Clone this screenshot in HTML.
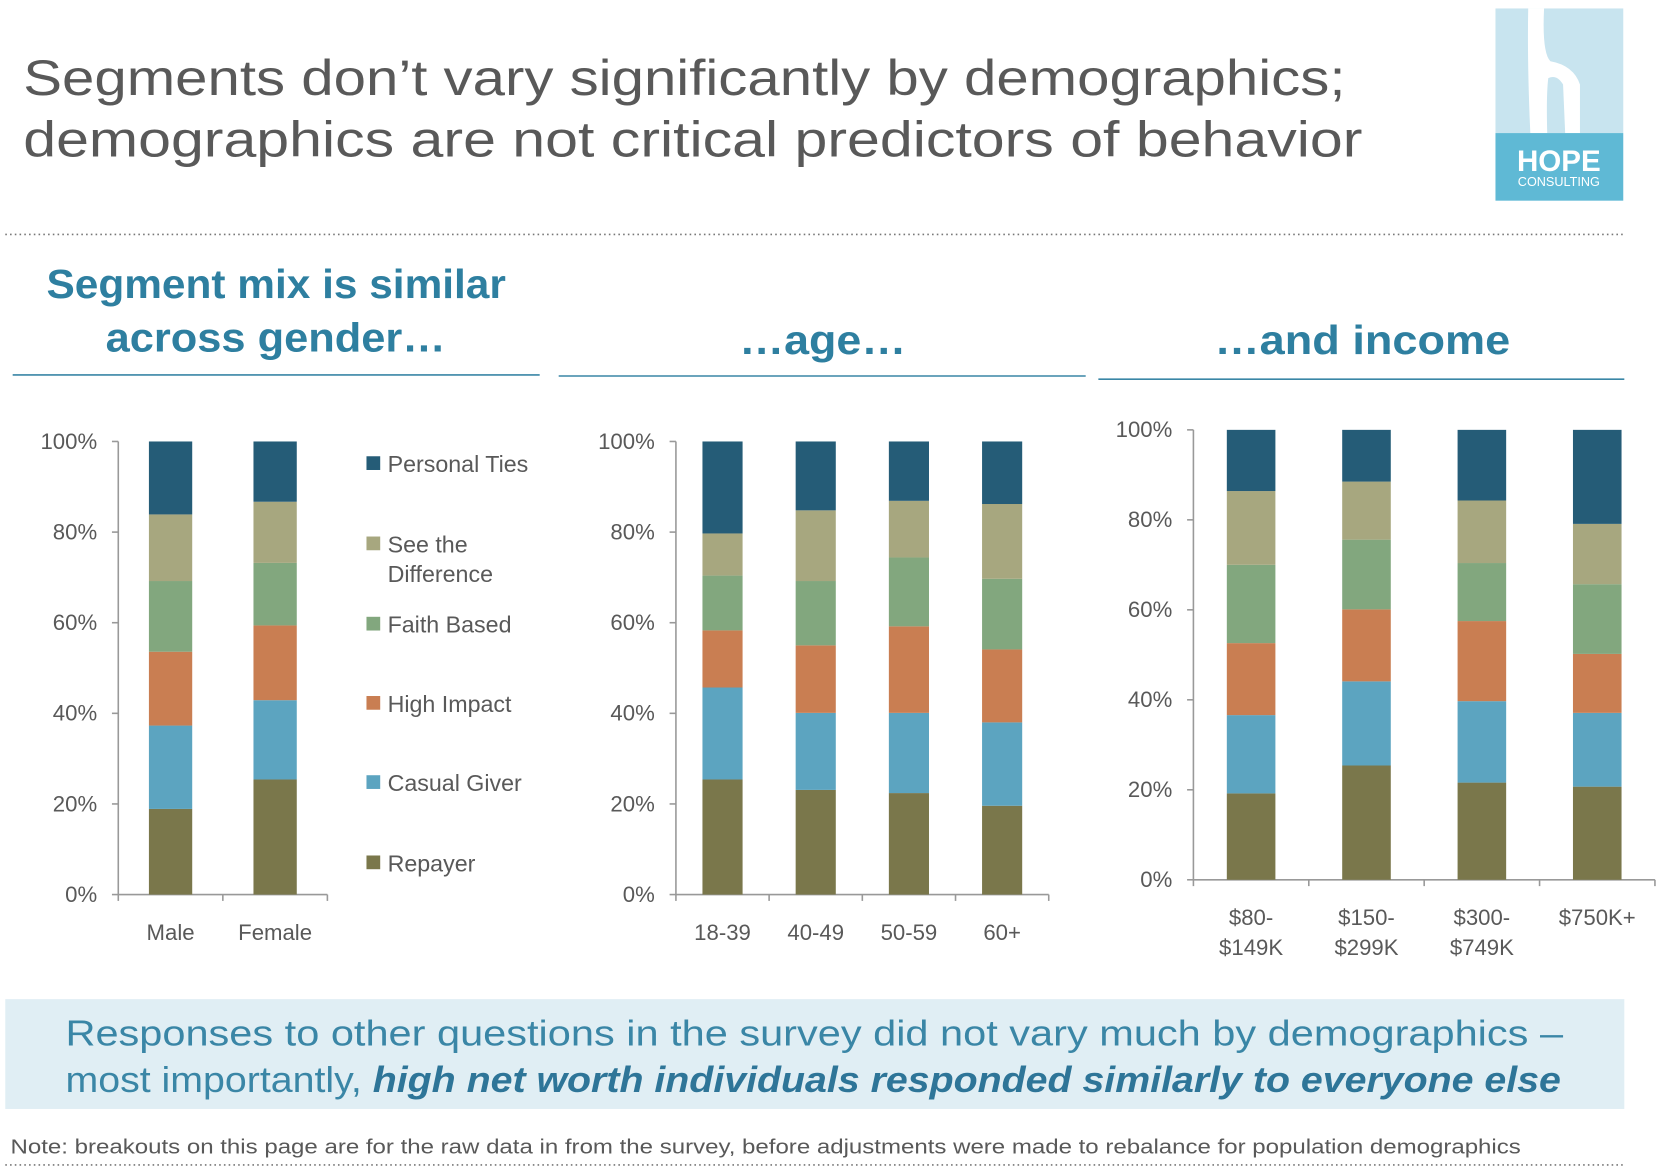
<!DOCTYPE html>
<html><head><meta charset="utf-8"><style>
html,body{margin:0;padding:0;background:#fff;}
svg{display:block;font-family:"Liberation Sans","DejaVu Sans",sans-serif;}
</style></head><body>
<svg id="slide" width="1656" height="1166" viewBox="0 0 1568 1104" preserveAspectRatio="none" xmlns="http://www.w3.org/2000/svg">
<text x="22" y="90" font-size="47" fill="#595959" textLength="1252" lengthAdjust="spacingAndGlyphs">Segments don’t vary significantly by demographics;</text>
<text x="22" y="148" font-size="47" fill="#595959" textLength="1268" lengthAdjust="spacingAndGlyphs">demographics are not critical predictors of behavior</text>
<g>
<rect x="1416" y="8" width="121" height="118" fill="#c8e4ef"/>
<path d="M1447 8 L1462 8 Q1460 50 1468 58 Q1490 62 1496 80 L1496 126 L1482 126 L1480 80 Q1474 70 1466 74 Q1464 90 1465 126 L1449 126 Q1446 60 1447 8 Z" fill="#fff"/>
<rect x="1416" y="126" width="121" height="64" fill="#5fb9d5"/>
<text x="1476" y="162" font-size="28" font-weight="bold" fill="#fff" text-anchor="middle">HOPE</text>
<text x="1476" y="176" font-size="12" fill="#fff" text-anchor="middle">CONSULTING</text>
</g>
<line x1="5" y1="222" x2="1537" y2="222" stroke="#777" stroke-width="1.5" stroke-dasharray="1.5,3"/>
<g font-weight="bold" fill="#2e7fa0" font-size="39">
<text x="44" y="282" textLength="435" lengthAdjust="spacingAndGlyphs">Segment mix is similar</text>
<text x="100" y="333" textLength="322" lengthAdjust="spacingAndGlyphs">across gender…</text>
<text x="700" y="335" textLength="158" lengthAdjust="spacingAndGlyphs">…age…</text>
<text x="1150" y="335" textLength="280" lengthAdjust="spacingAndGlyphs">…and income</text>
</g>
<line x1="12" y1="355" x2="511" y2="355" stroke="#3a86a6" stroke-width="1.5"/>
<line x1="529" y1="356" x2="1028" y2="356" stroke="#3a86a6" stroke-width="1.5"/>
<line x1="1040" y1="359" x2="1538" y2="359" stroke="#3a86a6" stroke-width="1.5"/>
<g id="charts"></g>
<g font-size="22" fill="#595959">
<rect x="347" y="432" width="13" height="13" fill="#255c77"/><text x="367" y="447">Personal Ties</text>
<rect x="347" y="508" width="13" height="13" fill="#a7a77f"/><text x="367" y="523">See the</text><text x="367" y="551">Difference</text>
<rect x="347" y="584" width="13" height="13" fill="#82a77e"/><text x="367" y="599">Faith Based</text>
<rect x="347" y="659" width="13" height="13" fill="#c97e52"/><text x="367" y="674">High Impact</text>
<rect x="347" y="734" width="13" height="13" fill="#5ca4c0"/><text x="367" y="749">Casual Giver</text>
<rect x="347" y="810" width="13" height="13" fill="#7a774b"/><text x="367" y="825">Repayer</text>
</g>
<rect x="5" y="946" width="1533" height="104" fill="#e0eef4"/>
<text x="62" y="990" font-size="34" fill="#3a86a6" textLength="1418" lengthAdjust="spacingAndGlyphs">Responses to other questions in the survey did not vary much by demographics –</text>
<text x="62" y="1034" font-size="34" fill="#3a86a6" textLength="1416" lengthAdjust="spacingAndGlyphs">most importantly, <tspan font-weight="bold" font-style="italic" fill="#2e7598">high net worth individuals responded similarly to everyone else</tspan></text>
<text x="10" y="1092" font-size="19" fill="#595959" textLength="1430" lengthAdjust="spacingAndGlyphs">Note: breakouts on this page are for the raw data in from the survey, before adjustments were made to rebalance for population demographics</text>
<line x1="5" y1="1103" x2="1537" y2="1103" stroke="#777" stroke-width="1.5" stroke-dasharray="1.5,3"/>
</svg>
<script>
const seriesNames = ["Repayer","Casual Giver","High Impact","Faith Based","See the Difference","Personal Ties"];
const colors = ["#7a774b","#5ca4c0","#c97e52","#82a77e","#a7a77f","#255c77"];
const yTicks = [0,20,40,60,80,100];
const genderCats = ["Male","Female"];
const genderRepayer = [18.9,25.4];
const genderCasual = [18.4,17.5];
const genderHigh = [16.3,16.5];
const genderFaith = [15.6,13.8];
const genderSee = [14.7,13.5];
const genderPersonal = [16.1,13.3];
const ageCats = ["18-39","40-49","50-59","60+"];
const ageRepayer = [25.4,23.1,22.4,19.6];
const ageCasual = [20.3,17.0,17.7,18.4];
const ageHigh = [12.6,14.9,19.1,16.1];
const ageFaith = [12.1,14.2,15.2,15.6];
const ageSee = [9.3,15.6,12.5,16.5];
const agePersonal = [20.3,15.2,13.1,13.8];
const incCats = [["$80-","$149K"],["$150-","$299K"],["$300-","$749K"],["$750K+"]];
const incRepayer = [19.2,25.4,21.6,20.7];
const incCasual = [17.4,18.7,18.1,16.4];
const incHigh = [16.0,16.0,17.8,13.1];
const incFaith = [17.4,15.5,12.9,15.5];
const incSee = [16.4,12.9,13.9,13.4];
const incPersonal = [13.6,11.5,15.7,20.9];

const NS="http://www.w3.org/2000/svg";
const root=document.getElementById('charts');
function mk(tag,attrs,parent){const e=document.createElementNS(NS,tag);for(const k in attrs)e.setAttribute(k,attrs[k]);parent.appendChild(e);return e;}
function drawChart(name,cfg,cats,series){
  const g=mk('g',{},root);
  
  
  const y=v=>cfg.y0-(cfg.y0-cfg.y100)*v/100;
  const band=(cfg.x1-cfg.x0)/cats.length;
  mk('line',{x1:cfg.x0,y1:cfg.y100,x2:cfg.x0,y2:cfg.y0,stroke:'#999','stroke-width':1.5},g);
  mk('line',{x1:cfg.x0,y1:cfg.y0,x2:cfg.x1,y2:cfg.y0,stroke:'#999','stroke-width':1.5},g);
  yTicks.forEach(t=>{
    mk('line',{x1:cfg.x0-6,y1:y(t),x2:cfg.x0,y2:y(t),stroke:'#999','stroke-width':1.5},g);
    const tx=mk('text',{x:cfg.x0-20,y:y(t)+7,'font-size':21,fill:'#595959','text-anchor':'end'},g);
    tx.textContent=t+'%';
    
    
  });
  for(let i=0;i<=cats.length;i++) mk('line',{x1:cfg.x0+band*i,y1:cfg.y0,x2:cfg.x0+band*i,y2:cfg.y0+6,stroke:'#999','stroke-width':1.5},g);
  cats.forEach((c,i)=>{
    const cx=cfg.x0+band*(i+0.5);
    let acc=0;
    series.forEach((s,k)=>{
      const v=(k===series.length-1)?100-acc:s[i];
      const r=mk('rect',{x:cx-cfg.bw/2,y:y(acc+v),width:cfg.bw,height:y(acc)-y(acc+v),fill:colors[k]},g);
      
      
      acc+=v;
    });
    const lines=Array.isArray(c)?c:[c];
    lines.forEach((ln,j)=>{
      const t=mk('text',{x:cx,y:cfg.y0+43+j*28,'font-size':21,fill:'#595959','text-anchor':'middle'},g);
      t.textContent=ln;
      
      
    });
  });
}
drawChart('gender-chart',{x0:112,x1:310,y0:847,y100:418,bw:41},genderCats,[genderRepayer,genderCasual,genderHigh,genderFaith,genderSee,genderPersonal]);
drawChart('age-chart',{x0:640,x1:993,y0:847,y100:418,bw:38},ageCats,[ageRepayer,ageCasual,ageHigh,ageFaith,ageSee,agePersonal]);
drawChart('income-chart',{x0:1130,x1:1567,y0:833,y100:407,bw:46},incCats,[incRepayer,incCasual,incHigh,incFaith,incSee,incPersonal]);
</script>
</body></html>
